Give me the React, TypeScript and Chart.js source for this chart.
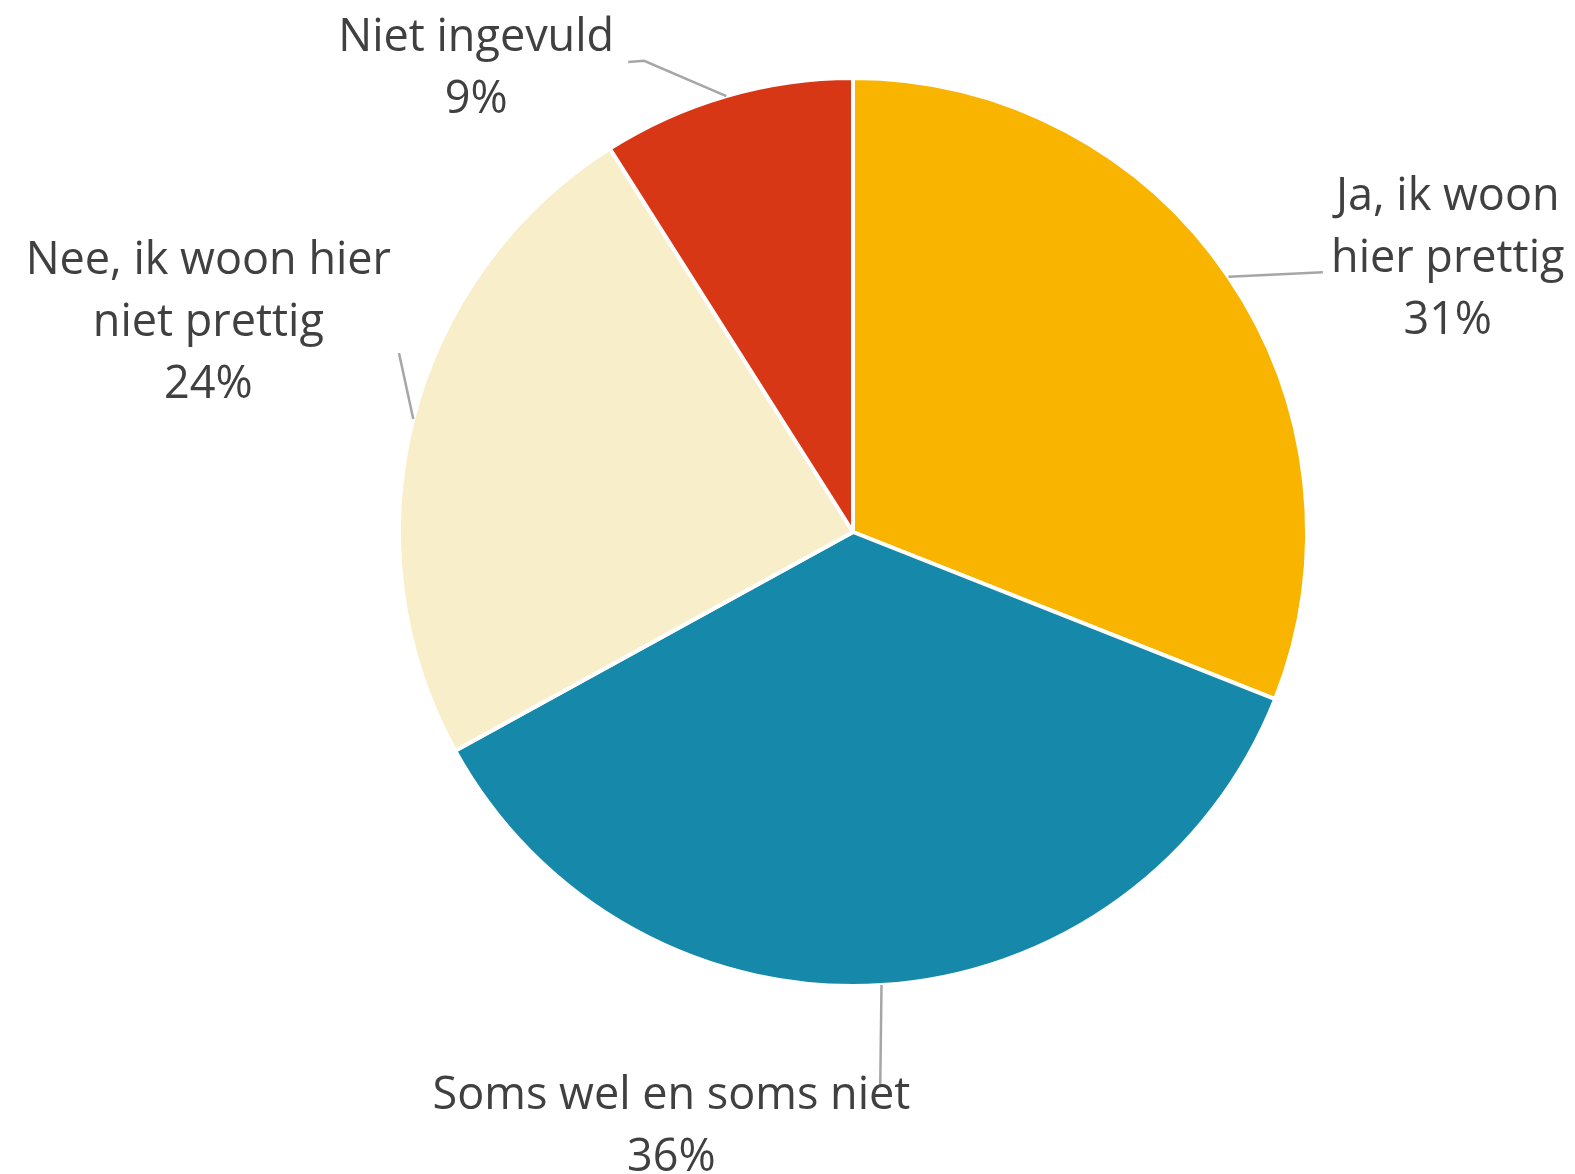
import React, { useEffect, useRef } from "react";
import { Chart, registerables } from "chart.js";

Chart.register(...registerables);

const categories = ["Ja, ik woon hier prettig", "Soms wel en soms niet", "Nee, ik woon hier niet prettig", "Niet ingevuld"];
const values = [31, 36, 24, 9];
const colors = ["#F9B400", "#1689AA", "#F8EEC9", "#D83716"];
// label text lines per slice
const labelLines = [
  ["Ja, ik woon", "hier prettig", "31%"],
  ["Soms wel en soms niet", "36%"],
  ["Nee, ik woon hier", "niet prettig", "24%"],
  ["Niet ingevuld", "9%"],
];
// label block centre, relative to pie centre in units of radius
const labelCenters = [
  [1.31, -0.6],
  [-0.4, 1.31],
  [-1.42, -0.46],
  [-0.83, -1.02],
];
// leader line points (after arc anchor), relative to pie centre in radius units
const leaderPoints = [
  [[1.035, -0.572]],
  [[0.06, 1.22]],
  [[-1.0, -0.394]],
  [[-0.46, -1.038], [-0.495, -1.035]],
];

const FONT = '45px "Open Sans", "DejaVu Sans", sans-serif';
const LINE_H = 62;

const labelPlugin = {
  id: "pieLabels",
  afterDraw(chart: any) {
    const ctx = chart.ctx;
    const meta = chart.getDatasetMeta(0);
    meta.data.forEach((arc: any, i: number) => {
      const { x, y, startAngle, endAngle, outerRadius } = arc.getProps(["x", "y", "startAngle", "endAngle", "outerRadius"], true);
      const R = outerRadius;
      const mid = (startAngle + endAngle) / 2;
      const ax = x + Math.cos(mid) * R;
      const ay = y + Math.sin(mid) * R;
      ctx.save();
      ctx.strokeStyle = "#A6A6A6";
      ctx.lineWidth = 2.5;
      ctx.beginPath();
      ctx.moveTo(ax, ay);
      leaderPoints[i].forEach((p) => ctx.lineTo(x + p[0] * R, y + p[1] * R));
      ctx.stroke();
      ctx.fillStyle = "#404040";
      ctx.font = FONT;
      ctx.textAlign = "center";
      ctx.textBaseline = "middle";
      const lines = labelLines[i];
      const cx = x + labelCenters[i][0] * R;
      const cy = y + labelCenters[i][1] * R;
      const top = cy - ((lines.length - 1) * LINE_H) / 2;
      lines.forEach((t, k) => ctx.fillText(t, cx, top + k * LINE_H));
      ctx.restore();
    });
  },
};

export default function App() {
  const ref = useRef<HTMLCanvasElement>(null);
  useEffect(() => {
    document.body.style.margin = "0";
    const chart = new Chart(ref.current!, {
      type: "pie",
      data: {
        labels: categories,
        datasets: [
          {
            data: values,
            backgroundColor: colors,
            borderColor: "#FFFFFF",
            borderWidth: 4,
          },
        ],
      },
      options: {
        animation: false,
        responsive: false,
        layout: { padding: { left: 397, right: 266, top: 76, bottom: 186 } },
        plugins: { legend: { display: false }, tooltip: { enabled: false } },
      },
      plugins: [labelPlugin],
    });
    return () => chart.destroy();
  }, []);
  return (
    <div style={{ width: 1575, height: 1174, background: "#fff" }}>
      <canvas ref={ref} width={1575} height={1174} style={{ display: "block" }} />
    </div>
  );
}
